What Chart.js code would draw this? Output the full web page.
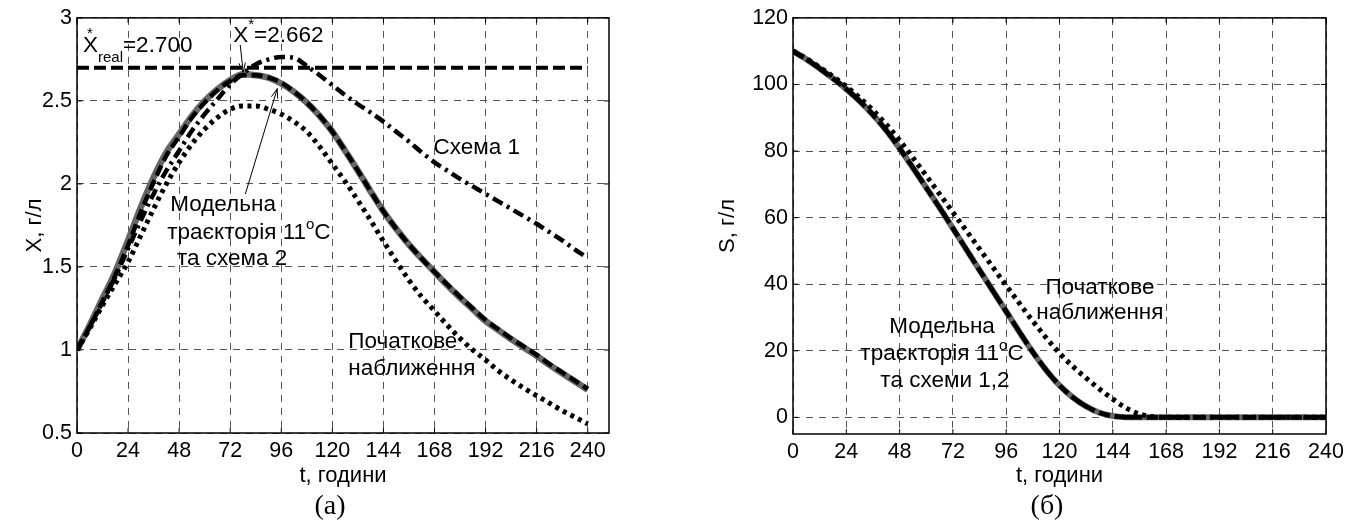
<!DOCTYPE html>
<html>
<head>
<meta charset="utf-8">
<script src="https://cdn.jsdelivr.net/npm/chart.js@4.4.0/dist/chart.umd.min.js"></script>
<style>
  html, body { margin: 0; padding: 0; background: #fff; }
  #wrap { position: relative; width: 1360px; height: 526px; }
  canvas { position: absolute; top: 0; }
  #chartX { left: 0; }
  #chartS { left: 680px; }
</style>
</head>
<body>
<div id="wrap">
  <canvas id="chartX" width="680" height="526"></canvas>
  <canvas id="chartS" width="680" height="526"></canvas>
</div>
<script>
// time, hours
var tHours = [0, 6, 12, 18, 24, 30, 36, 42, 48, 54, 60, 66, 72, 78, 84, 90, 96, 102, 108, 114, 120,
              126, 132, 138, 144, 150, 156, 162, 168, 174, 180, 186, 192, 198, 204, 210, 216, 222, 228, 234, 240];
var tTicks = [0, 24, 48, 72, 96, 120, 144, 168, 192, 216, 240];

// (а) biomass X, g/l
var xTicks = [0.5, 1, 1.5, 2, 2.5, 3];
var xModel = [1.00, 1.15, 1.31, 1.47, 1.66, 1.86, 2.04, 2.19, 2.30, 2.41, 2.50, 2.57, 2.625, 2.66, 2.655, 2.64, 2.605, 2.555, 2.49, 2.41, 2.315,
              2.20, 2.08, 1.955, 1.835, 1.73, 1.635, 1.55, 1.47, 1.39, 1.315, 1.245, 1.175, 1.12, 1.065, 1.015, 0.965, 0.91, 0.86, 0.81, 0.76];
var xScheme2 = [1.00, 1.14, 1.29, 1.45, 1.63, 1.83, 2.01, 2.17, 2.285, 2.40, 2.49, 2.565, 2.62, 2.655, 2.655, 2.64, 2.61, 2.555, 2.49, 2.41, 2.315,
                2.20, 2.08, 1.955, 1.835, 1.73, 1.635, 1.55, 1.47, 1.395, 1.32, 1.25, 1.18, 1.125, 1.07, 1.02, 0.97, 0.915, 0.865, 0.815, 0.765];
var xScheme1 = [1.00, 1.14, 1.29, 1.44, 1.61, 1.78, 1.94, 2.08, 2.20, 2.32, 2.42, 2.51, 2.60, 2.665, 2.72, 2.75, 2.765, 2.76, 2.71, 2.655, 2.595,
                2.535, 2.48, 2.43, 2.375, 2.315, 2.255, 2.19, 2.13, 2.08, 2.03, 1.985, 1.94, 1.895, 1.85, 1.805, 1.76, 1.71, 1.66, 1.605, 1.555];
var xInitial = [1.00, 1.13, 1.27, 1.40, 1.53, 1.69, 1.85, 2.00, 2.13, 2.24, 2.33, 2.40, 2.45, 2.47, 2.47, 2.45, 2.42, 2.375, 2.315, 2.225, 2.12,
                2.015, 1.90, 1.78, 1.655, 1.535, 1.42, 1.32, 1.235, 1.15, 1.07, 1.00, 0.94, 0.875, 0.82, 0.77, 0.725, 0.68, 0.635, 0.595, 0.555];
var xReal = 2.7;
var xRealSpan = [0, 240];

// (б) substrate S, g/l
var sTicks = [0, 20, 40, 60, 80, 100, 120];
var sModel = [110, 107.6, 104.8, 101.8, 98.6, 95.0, 90.9, 86.2, 80.8, 75.0, 69.0, 63.0, 56.8, 50.5, 44.2, 38.0, 31.8, 25.6, 19.6, 14.2, 9.6,
              6.0, 3.3, 1.4, 0.4, 0.05, 0, 0, 0, 0, 0, 0, 0, 0, 0, 0, 0, 0, 0, 0, 0];
var sSchemes = [110, 107.6, 104.8, 101.8, 98.6, 95.0, 90.9, 86.2, 80.8, 75.0, 69.0, 63.0, 56.8, 50.5, 44.2, 38.0, 31.8, 25.6, 19.6, 14.2, 9.6,
                6.0, 3.3, 1.4, 0.4, 0.05, 0, 0, 0, 0, 0, 0, 0, 0, 0, 0, 0, 0, 0, 0, 0];
var sInitial = [110, 107.8, 105.2, 102.4, 99.4, 96.0, 92.3, 88.0, 83.2, 78.0, 72.6, 67.1, 61.6, 56.1, 50.6, 45.1, 39.6, 34.2, 28.9, 23.9, 19.3,
                15.3, 11.8, 8.5, 5.5, 2.8, 1.0, 0.2, 0, 0, 0, 0, 0, 0, 0, 0, 0, 0, 0, 0, 0];

var FONT = "'Liberation Sans', Arial, sans-serif";

function pts(ys) {
    return tHours.map(function (t, i) { return {x: t, y: ys[i]}; });
}

function drawRuns(ctx, runs, x, y, align) {
    var total = 0;
    runs.forEach(function (r) {
        ctx.font = (r.size || 22.5) + 'px ' + FONT;
        if (!r.keep) total += ctx.measureText(r.s).width;
    });
    if (align === 'center') x -= total / 2;
    runs.forEach(function (r) {
        ctx.font = (r.size || 22.5) + 'px ' + FONT;
        ctx.fillText(r.s, x + (r.dx || 0), y + (r.dy || 0));
        if (!r.keep) x += ctx.measureText(r.s).width;
    });
}

function arrow(ctx, x1, y1, x2, y2) {
    var a = Math.atan2(y2 - y1, x2 - x1), L = 10;
    ctx.beginPath();
    ctx.moveTo(x1, y1);
    ctx.lineTo(x2, y2);
    ctx.moveTo(x2 - L * Math.cos(a - 0.33), y2 - L * Math.sin(a - 0.33));
    ctx.lineTo(x2, y2);
    ctx.lineTo(x2 - L * Math.cos(a + 0.33), y2 - L * Math.sin(a + 0.33));
    ctx.stroke();
}

// box round the axes, inward ticks, text notes and arrows
var frame = {
    id: 'frame',
    afterDatasetsDraw: function (chart, args, opts) {
        var ctx = chart.ctx, a = chart.chartArea;
        var sx = chart.scales.x, sy = chart.scales.y;
        ctx.save();
        ctx.strokeStyle = '#000';
        ctx.lineWidth = 1;
        sx.ticks.forEach(function (tk) {
            var p = sx.getPixelForValue(tk.value);
            ctx.beginPath();
            ctx.moveTo(p, a.bottom); ctx.lineTo(p, a.bottom - 5);
            ctx.moveTo(p, a.top); ctx.lineTo(p, a.top + 5);
            ctx.stroke();
        });
        sy.ticks.forEach(function (tk) {
            var p = sy.getPixelForValue(tk.value);
            ctx.beginPath();
            ctx.moveTo(a.left, p); ctx.lineTo(a.left + 5, p);
            ctx.moveTo(a.right, p); ctx.lineTo(a.right - 5, p);
            ctx.stroke();
        });
        ctx.lineWidth = 1.5;
        ctx.strokeRect(a.left, a.top, a.right - a.left, a.bottom - a.top);

        ctx.fillStyle = '#000';
        ctx.textBaseline = 'alphabetic';
        ctx.textAlign = 'left';
        (opts.notes || []).forEach(function (n) {
            drawRuns(ctx, n.runs, sx.getPixelForValue(n.t), sy.getPixelForValue(n.v), n.align);
        });
        ctx.lineWidth = 1;
        (opts.arrows || []).forEach(function (ar) {
            arrow(ctx, sx.getPixelForValue(ar[0]), sy.getPixelForValue(ar[1]),
                       sx.getPixelForValue(ar[2]), sy.getPixelForValue(ar[3]));
        });
        if (opts.caption) {
            ctx.font = "28px 'Liberation Serif', 'Times New Roman', serif";
            ctx.textAlign = 'center';
            ctx.textBaseline = 'middle';
            ctx.fillText(opts.caption.text, opts.caption.x, opts.caption.y);
        }
        ctx.restore();
    }
};

function axes(xMax, yMin, yMax, yTickList, yTitle, yWidth, yTitlePad, xHeight) {
    var tickFont = {family: FONT, size: 21.5};
    var titleFont = {family: FONT, size: 22};
    var plain = function (v) { return String(v); };
    return {
        x: {
            type: 'linear', min: 0, max: xMax,
            afterBuildTicks: function (s) { s.ticks = tTicks.map(function (v) { return {value: v}; }); },
            afterFit: function (s) { s.height = xHeight; },
            ticks: {font: tickFont, color: '#000', padding: 5, maxRotation: 0, autoSkip: false, callback: plain},
            grid: {color: '#555', lineWidth: 1, drawTicks: false},
            border: {display: false, dash: [7, 6]},
            title: {display: true, text: 't, години', font: titleFont, color: '#000', padding: {top: 0, bottom: 37}}
        },
        y: {
            type: 'linear', min: yMin, max: yMax,
            afterBuildTicks: function (s) { s.ticks = yTickList.map(function (v) { return {value: v}; }); },
            afterFit: function (s) { s.width = yWidth; },
            ticks: {font: tickFont, color: '#000', padding: 5, callback: plain},
            grid: {color: '#555', lineWidth: 1, drawTicks: false},
            border: {display: false, dash: [7, 6]},
            title: {display: true, text: yTitle, font: titleFont, color: '#000', padding: {top: yTitlePad, bottom: 0}}
        }
    };
}

var common = {
    responsive: false,
    animation: false,
    devicePixelRatio: 1,
    elements: {
        point: {radius: 0},
        line: {fill: false, cubicInterpolationMode: 'monotone', borderCapStyle: 'butt'}
    }
};

// first dataset in the list is drawn on top
new Chart(document.getElementById('chartX'), {
    type: 'line',
    data: {
        datasets: [
            {data: xRealSpan.map(function (t) { return {x: t, y: xReal}; }), borderColor: '#000', borderWidth: 4, borderDash: [12, 5]},
            {data: pts(xInitial), borderColor: '#000', borderWidth: 5, borderDash: [4, 4.5]},
            {data: pts(xScheme1), borderColor: '#000', borderWidth: 4.5, borderDash: [11, 5, 3, 5]},
            {data: pts(xScheme2), borderColor: '#000', borderWidth: 4.5, borderDash: [11, 5]},
            {data: pts(xModel), borderColor: '#666', borderWidth: 6.5}
        ]
    },
    options: Object.assign({}, common, {
        layout: {padding: {top: 16, right: 71, bottom: 0, left: 0}},
        scales: axes(250, 0.5, 3, xTicks, 'X, г/л', 77, 22, 93),
        plugins: {
            legend: {display: false},
            tooltip: {enabled: false},
            frame: {
                notes: [
                    {t: 2.8, v: 2.796, runs: [{s: 'X'}, {s: '*', size: 15, dx: -11, dy: -14, keep: true},
                                              {s: 'real', size: 15, dy: 10}, {s: '=2.700'}]},
                    {t: 73.4, v: 2.856, runs: [{s: 'X'}, {s: '*', size: 15, dy: -13}, {s: '=2.662'}]},
                    {t: 43.8, v: 1.837, runs: [{s: 'Модельна'}]},
                    {t: 42.4, v: 1.669, runs: [{s: 'траєкторія 11'}, {s: 'o', size: 15, dy: -10}, {s: 'C'}]},
                    {t: 47, v: 1.513, runs: [{s: 'та схема 2'}]},
                    {t: 167.5, v: 2.179, runs: [{s: 'Схема 1'}]},
                    {t: 127.5, v: 1.01, runs: [{s: 'Початкове'}]},
                    {t: 127.5, v: 0.848, runs: [{s: 'наближення'}]}
                ],
                arrows: [[76.7, 2.838, 78.1, 2.672], [79.1, 1.939, 94.1, 2.574]],
                caption: {text: '(а)', x: 330, y: 507}
            }
        }
    }),
    plugins: [frame]
});

new Chart(document.getElementById('chartS'), {
    type: 'line',
    data: {
        datasets: [
            {data: pts(sInitial), borderColor: '#000', borderWidth: 5, borderDash: [4, 4.5]},
            {data: pts(sSchemes), borderColor: '#000', borderWidth: 4.5, borderDash: [11, 5, 3, 5]},
            {data: pts(sSchemes), borderColor: '#000', borderWidth: 4.5, borderDash: [11, 5]},
            {data: pts(sModel), borderColor: '#666', borderWidth: 6}
        ]
    },
    options: Object.assign({}, common, {
        layout: {padding: {top: 16, right: 34, bottom: 0, left: 0}},
        scales: axes(240, -5, 120, sTicks, 'S, г/л', 113, 35, 92),
        plugins: {
            legend: {display: false},
            tooltip: {enabled: false},
            frame: {
                notes: [
                    {t: 67.1, v: 25.4, align: 'center', runs: [{s: 'Модельна'}]},
                    {t: 67.1, v: 17.3, align: 'center', runs: [{s: 'траєкторія 11'}, {s: 'o', size: 15, dy: -10}, {s: 'C'}]},
                    {t: 68.4, v: 9.2, align: 'center', runs: [{s: 'та схеми 1,2'}]},
                    {t: 138.2, v: 37.1, align: 'center', runs: [{s: 'Початкове'}]},
                    {t: 138.2, v: 29.6, align: 'center', runs: [{s: 'наближення'}]}
                ],
                caption: {text: '(б)', x: 367, y: 507}
            }
        }
    }),
    plugins: [frame]
});
</script>
</body>
</html>
